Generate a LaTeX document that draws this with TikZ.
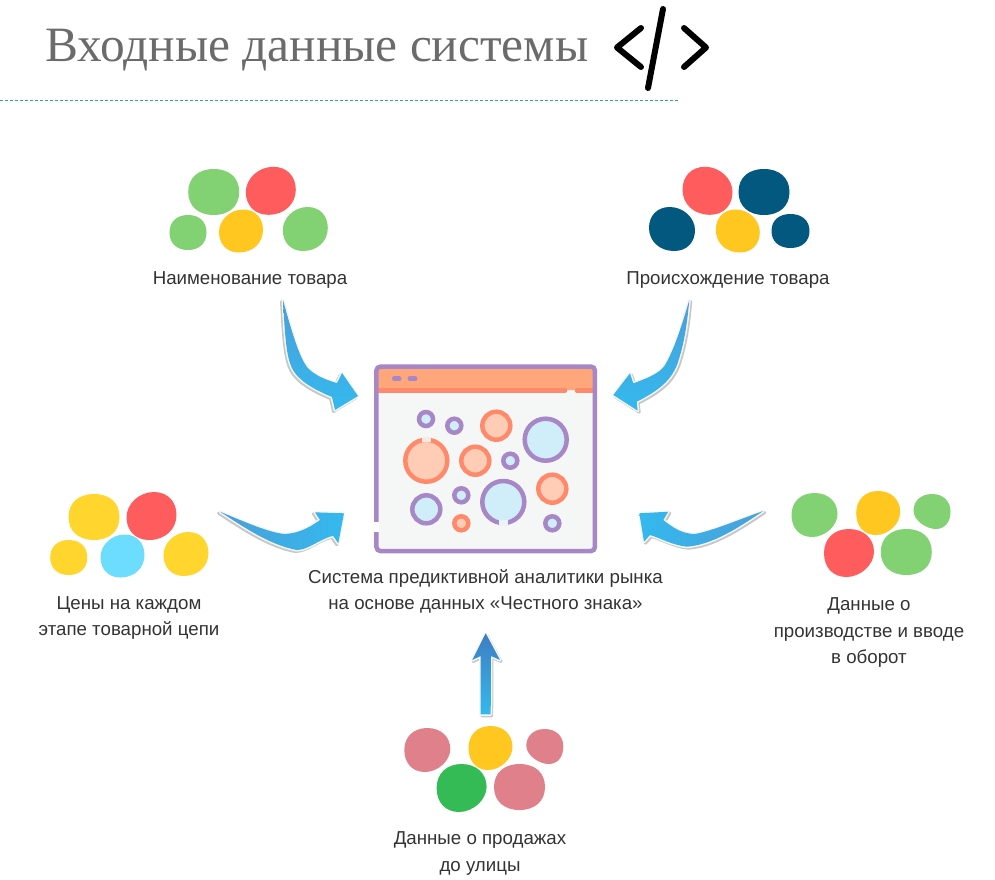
\documentclass[tikz,border=0pt]{standalone}
\usepackage{fontspec}
\setmainfont{Liberation Sans}
\newfontfamily\titlefont{Liberation Serif}

\definecolor{leafgreen}{HTML}{82D173}
\definecolor{coral}{HTML}{FF5D5D}
\definecolor{amber}{HTML}{FFC720}
\definecolor{sunny}{HTML}{FFD52E}
\definecolor{navy}{HTML}{02587F}
\definecolor{skyblob}{HTML}{6CDCFF}
\definecolor{rosy}{HTML}{E0808A}
\definecolor{grassy}{HTML}{34BB55}
\definecolor{framepurple}{HTML}{A787C6}
\definecolor{headerorange}{HTML}{FFA77A}
\definecolor{stripeorange}{HTML}{FF8A6B}
\definecolor{bodygray}{HTML}{F5F7F7}
\definecolor{skyfill}{HTML}{D0EEFA}
\definecolor{peachfill}{HTML}{FFCDB5}
\definecolor{linkblue}{HTML}{34B9EE}
\definecolor{deepblue}{HTML}{4A9FDA}
\definecolor{steelblue}{HTML}{3E7DC2}

\tikzset{
  roundblob/.pic={\fill[pic actions] (1,0) .. controls (1,.62) and (.6,1) .. (0,1)
    .. controls (-.62,1) and (-1,.6) .. (-1,0) .. controls (-1,-.62) and (-.6,-1) .. (0,-1)
    .. controls (.62,-1) and (1,-.62) .. (1,0) -- cycle;},
  eggblob/.pic={\fill[pic actions] (.1,-1) .. controls (.65,-1) and (1,-.6) .. (1,-.05)
    .. controls (1,.55) and (.55,1) .. (-.1,1) .. controls (-.65,1) and (-1,.6) .. (-1,.05)
    .. controls (-1,-.5) and (-.5,-1) .. (.1,-1) -- cycle;},
  dropblob/.pic={\fill[pic actions] (1,-.05) .. controls (1,.5) and (.45,1) .. (-.1,1)
    .. controls (-.65,1) and (-1,.6) .. (-1,0) .. controls (-1,-.6) and (-.6,-1) .. (0,-1)
    .. controls (.6,-1) and (1,-.6) .. (1,-.05) -- cycle;},
  lobeblob/.pic={\fill[pic actions] (0,-1) .. controls (.6,-1) and (1,-.6) .. (1,0)
    .. controls (1,.6) and (.7,1) .. (.2,1) .. controls (-.25,1) and (-1,.55) .. (-1,-.05)
    .. controls (-1,-.6) and (-.6,-1) .. (0,-1) -- cycle;}
}

\begin{document}
\begin{tikzpicture}[
    x=1pt, y=-1pt,
    caption/.style={align=center, text=black!80,
                    font=\fontsize{18.7}{26.5}\selectfont},
    bubpurple/.style={circle, draw=framepurple, fill=skyfill, line width=4.5pt,
                      inner sep=0pt, minimum size=#1},
    buborange/.style={circle, draw=stripeorange, fill=peachfill, line width=4.5pt,
                      inner sep=0pt, minimum size=#1},
    flowarrow/.style={
      preaction={draw=black!22, line width=3pt, line join=round,
                 transform canvas={shift={(#1,-1.5pt)}}},
      preaction={draw=white!97!black, line width=3pt, line join=round}},
    flowarrow/.default=-1.5pt,
    codeline/.style={line width=6pt, line cap=round, line join=round}
  ]
  \useasboundingbox (0,0) rectangle (995,879);

  \node[anchor=base west, text=black!58, inner sep=0pt,
        font=\titlefont\fontsize{49.4}{50}\selectfont] (heading) at (45,61) {Входные данные системы};
  \coordinate (ruleL) at (0,100);
  \coordinate (ruleR) at (679,100);
  \draw[densely dashed, line width=1pt, color=linkblue!85!black] (ruleL) -- (ruleR);
  \draw[codeline] (641,28) -- (617,47.5) -- (641,67);
  \draw[codeline] (684,28) -- (706,47.5) -- (684,67);
  \draw[codeline] (663,9) -- (648,88);

  % goods name
  \pic[fill=leafgreen, xscale=25.5, yscale=23] (nameA) at (213.7,192) {roundblob};
  \pic[fill=coral, xscale=25, yscale=24] (nameB) at (270.8,190.8) {eggblob};
  \pic[fill=leafgreen, xscale=18.5, yscale=17.5] (nameC) at (188,232.5) {roundblob};
  \pic[fill=amber, xscale=22, yscale=21.5] (nameD) at (241,231) {eggblob};
  \pic[fill=leafgreen, xscale=22.5, yscale=22] (nameE) at (305.3,229) {eggblob};
  \node[caption] (nameText) at (250,279.5) {Наименование товара};

  % origin
  \pic[fill=coral, xscale=-25, yscale=24] (originA) at (707.5,190.8) {eggblob};
  \pic[fill=navy, xscale=-25.5, yscale=23] (originB) at (764,192) {roundblob};
  \pic[fill=navy, xscale=-23, yscale=22] (originC) at (672,229) {eggblob};
  \pic[fill=amber, xscale=-22, yscale=21.5] (originD) at (737.8,231) {eggblob};
  \pic[fill=navy, xscale=-19, yscale=17] (originE) at (790.5,231) {roundblob};
  \node[caption] (originText) at (728,279.5) {Происхождение товара};

  % prices
  \pic[fill=sunny, xscale=25.5, yscale=23] (priceA) at (94,517) {roundblob};
  \pic[fill=coral, xscale=25, yscale=24] (priceB) at (151.5,516) {eggblob};
  \pic[fill=sunny, xscale=18.5, yscale=17.5] (priceC) at (68.7,557.5) {roundblob};
  \pic[fill=skyblob, xscale=22, yscale=21.5] (priceD) at (122.5,556) {eggblob};
  \pic[fill=sunny, xscale=22.5, yscale=22] (priceE) at (186,554) {eggblob};
  \node[caption] (priceText) at (129,618) {Цены на каждом\\этапе товарной цепи};

  % production
  \pic[fill=leafgreen, xscale=23, yscale=22] (prodA) at (814.5,515) {dropblob};
  \pic[fill=amber, xscale=22, yscale=22] (prodB) at (878.2,513) {dropblob};
  \pic[fill=leafgreen, xscale=18.5, yscale=17.5] (prodC) at (932,511.5) {lobeblob};
  \pic[fill=coral, xscale=25, yscale=24] (prodD) at (849,553) {dropblob};
  \pic[fill=leafgreen, xscale=25.5, yscale=23] (prodE) at (906.3,552) {roundblob};
  \node[caption] (prodText) at (869,632.5) {Данные о\\производстве и вводе\\в оборот};

  % sales
  \pic[fill=rosy, xscale=23, yscale=22] (salesA) at (427.3,750) {dropblob};
  \pic[fill=amber, xscale=22, yscale=22] (salesB) at (490.5,748) {dropblob};
  \pic[fill=rosy, xscale=18.5, yscale=17.5] (salesC) at (544.8,746.5) {lobeblob};
  \pic[fill=grassy, xscale=25, yscale=24] (salesD) at (461.6,788) {dropblob};
  \pic[fill=rosy, xscale=25.5, yscale=23] (salesE) at (519.5,787) {roundblob};
  \node[caption] (salesText) at (480,853.5) {Данные о продажах\\до улицы};

  % window
  \node[fill=bodygray, inner sep=0pt, outer sep=0pt, minimum width=218.5, minimum height=184.5,
        rounded corners=3pt] (window) at (485.7,458.8) {};
  \fill[headerorange, rounded corners=3pt] (window.north west) -- (window.north east) -- ++(0,12) |- (376.5,390) -- cycle;
  \draw[stripeorange, line width=4.5pt, line cap=round] (window.west |- 0,390.7) -- (565,390.7);
  \draw[stripeorange, line width=4.5pt, line cap=round] (577,390.7) -- (window.east |- 0,390.7);
  \draw[framepurple, line width=4.5pt, rounded corners=4pt] (window.north west) rectangle (window.south east);
  \fill[white] (372,522) rectangle (378.7,532);
  \draw[framepurple, line width=5pt, line cap=round] (394.5,378.7) -- (399,378.7);
  \draw[framepurple, line width=5pt, line cap=round] (410,378.7) -- (415,378.7);

  \node[bubpurple=14] (bubA) at (426,419) {};
  \node[bubpurple=14] (bubB) at (454.3,425.7) {};
  \node[buborange=28] (bubC) at (496.3,425.7) {};
  \node[bubpurple=42] (bubD) at (545.7,439.7) {};
  \node[buborange=42] (bubE) at (426.3,460.7) {};
  \node[buborange=28] (bubF) at (475.3,460.7) {};
  \node[bubpurple=14] (bubG) at (510.3,460.7) {};
  \node[buborange=28] (bubH) at (552.3,488.7) {};
  \node[bubpurple=42] (bubI) at (503.3,502) {};
  \node[bubpurple=28] (bubJ) at (426.3,509.3) {};
  \node[bubpurple=14] (bubK) at (461.3,495.3) {};
  \node[buborange=14] (bubL) at (461.3,523.3) {};
  \node[bubpurple=14] (bubM) at (552.3,523.3) {};
  \fill[peachfill!30!bodygray] ([shift={(-4.5,-0.5)}]bubE.north) rectangle ([shift={(4.5,5)}]bubE.north);
  \fill[skyfill!30!bodygray] ([shift={(-4.5,0.5)}]bubI.south) rectangle ([shift={(4.5,-5)}]bubI.south);

  \node[caption] (windowText) at (485.5,591.5) {Система предиктивной аналитики рынка\\на основе данных «Честного знака»};

  % arrows
  \coordinate (nameTail) at (283,300);
  \coordinate (nameTip) at (358,396);
  \shade[flowarrow, top color=deepblue, bottom color=linkblue]
    (nameTail) .. controls (285,335) and (286,358) .. (293,370)
    .. controls (298,379) and (310,388) .. (332,397) -- (335,410) -- (nameTip) -- (342,373) -- (337,383)
    .. controls (322,379) and (312,373) .. (307,367) .. controls (298,355) and (290,325) .. (nameTail) -- cycle;

  \coordinate (originTail) at (689.3,300);
  \coordinate (originTip) at (613.3,395);
  \shade[flowarrow=1.5pt, top color=deepblue, bottom color=linkblue]
    (originTail) .. controls (687,325) and (684,345) .. (677,365)
    .. controls (671,380) and (660,390) .. (636.7,401.7) -- (637.7,410.7) -- (originTip) -- (630,373.3) -- (633.3,383.3)
    .. controls (648,378) and (660,373) .. (665,365) .. controls (674,350) and (682,325) .. (originTail) -- cycle;

  \coordinate (priceTail) at (220,511.7);
  \coordinate (priceTip) at (344,513.3);
  \shade[flowarrow, left color=deepblue, right color=linkblue]
    (priceTail) .. controls (245,528) and (270,545) .. (296.7,550)
    .. controls (308,550) and (318,540) .. (333,535.7) -- (338.3,543.3) -- (priceTip) -- (315,512.3) -- (320,520)
    .. controls (310,527) and (300,533) .. (285,534) .. controls (270,533) and (245,522) .. (priceTail) -- cycle;

  \coordinate (prodTail) at (763.3,511);
  \coordinate (prodTip) at (639.3,513.3);
  \shade[flowarrow=1.5pt, left color=linkblue, right color=deepblue]
    (prodTail) .. controls (738,528) and (712,545) .. (686.7,546.7)
    .. controls (672,545) and (660,538) .. (650,535) -- (644,541.7) -- (prodTip) -- (668.3,511.7) -- (663.3,520)
    .. controls (672,527) and (682,534) .. (695,534) .. controls (715,530) and (740,519) .. (prodTail) -- cycle;

  \coordinate (salesTip) at (485.7,633.3);
  \shade[flowarrow=1pt, top color=steelblue, bottom color=linkblue]
    (salesTip) -- (500,660) -- (491,656) -- (490.7,714.3) -- (480.7,714.3) -- (480.7,656) -- (472.3,660) -- cycle;
\end{tikzpicture}
\end{document}
